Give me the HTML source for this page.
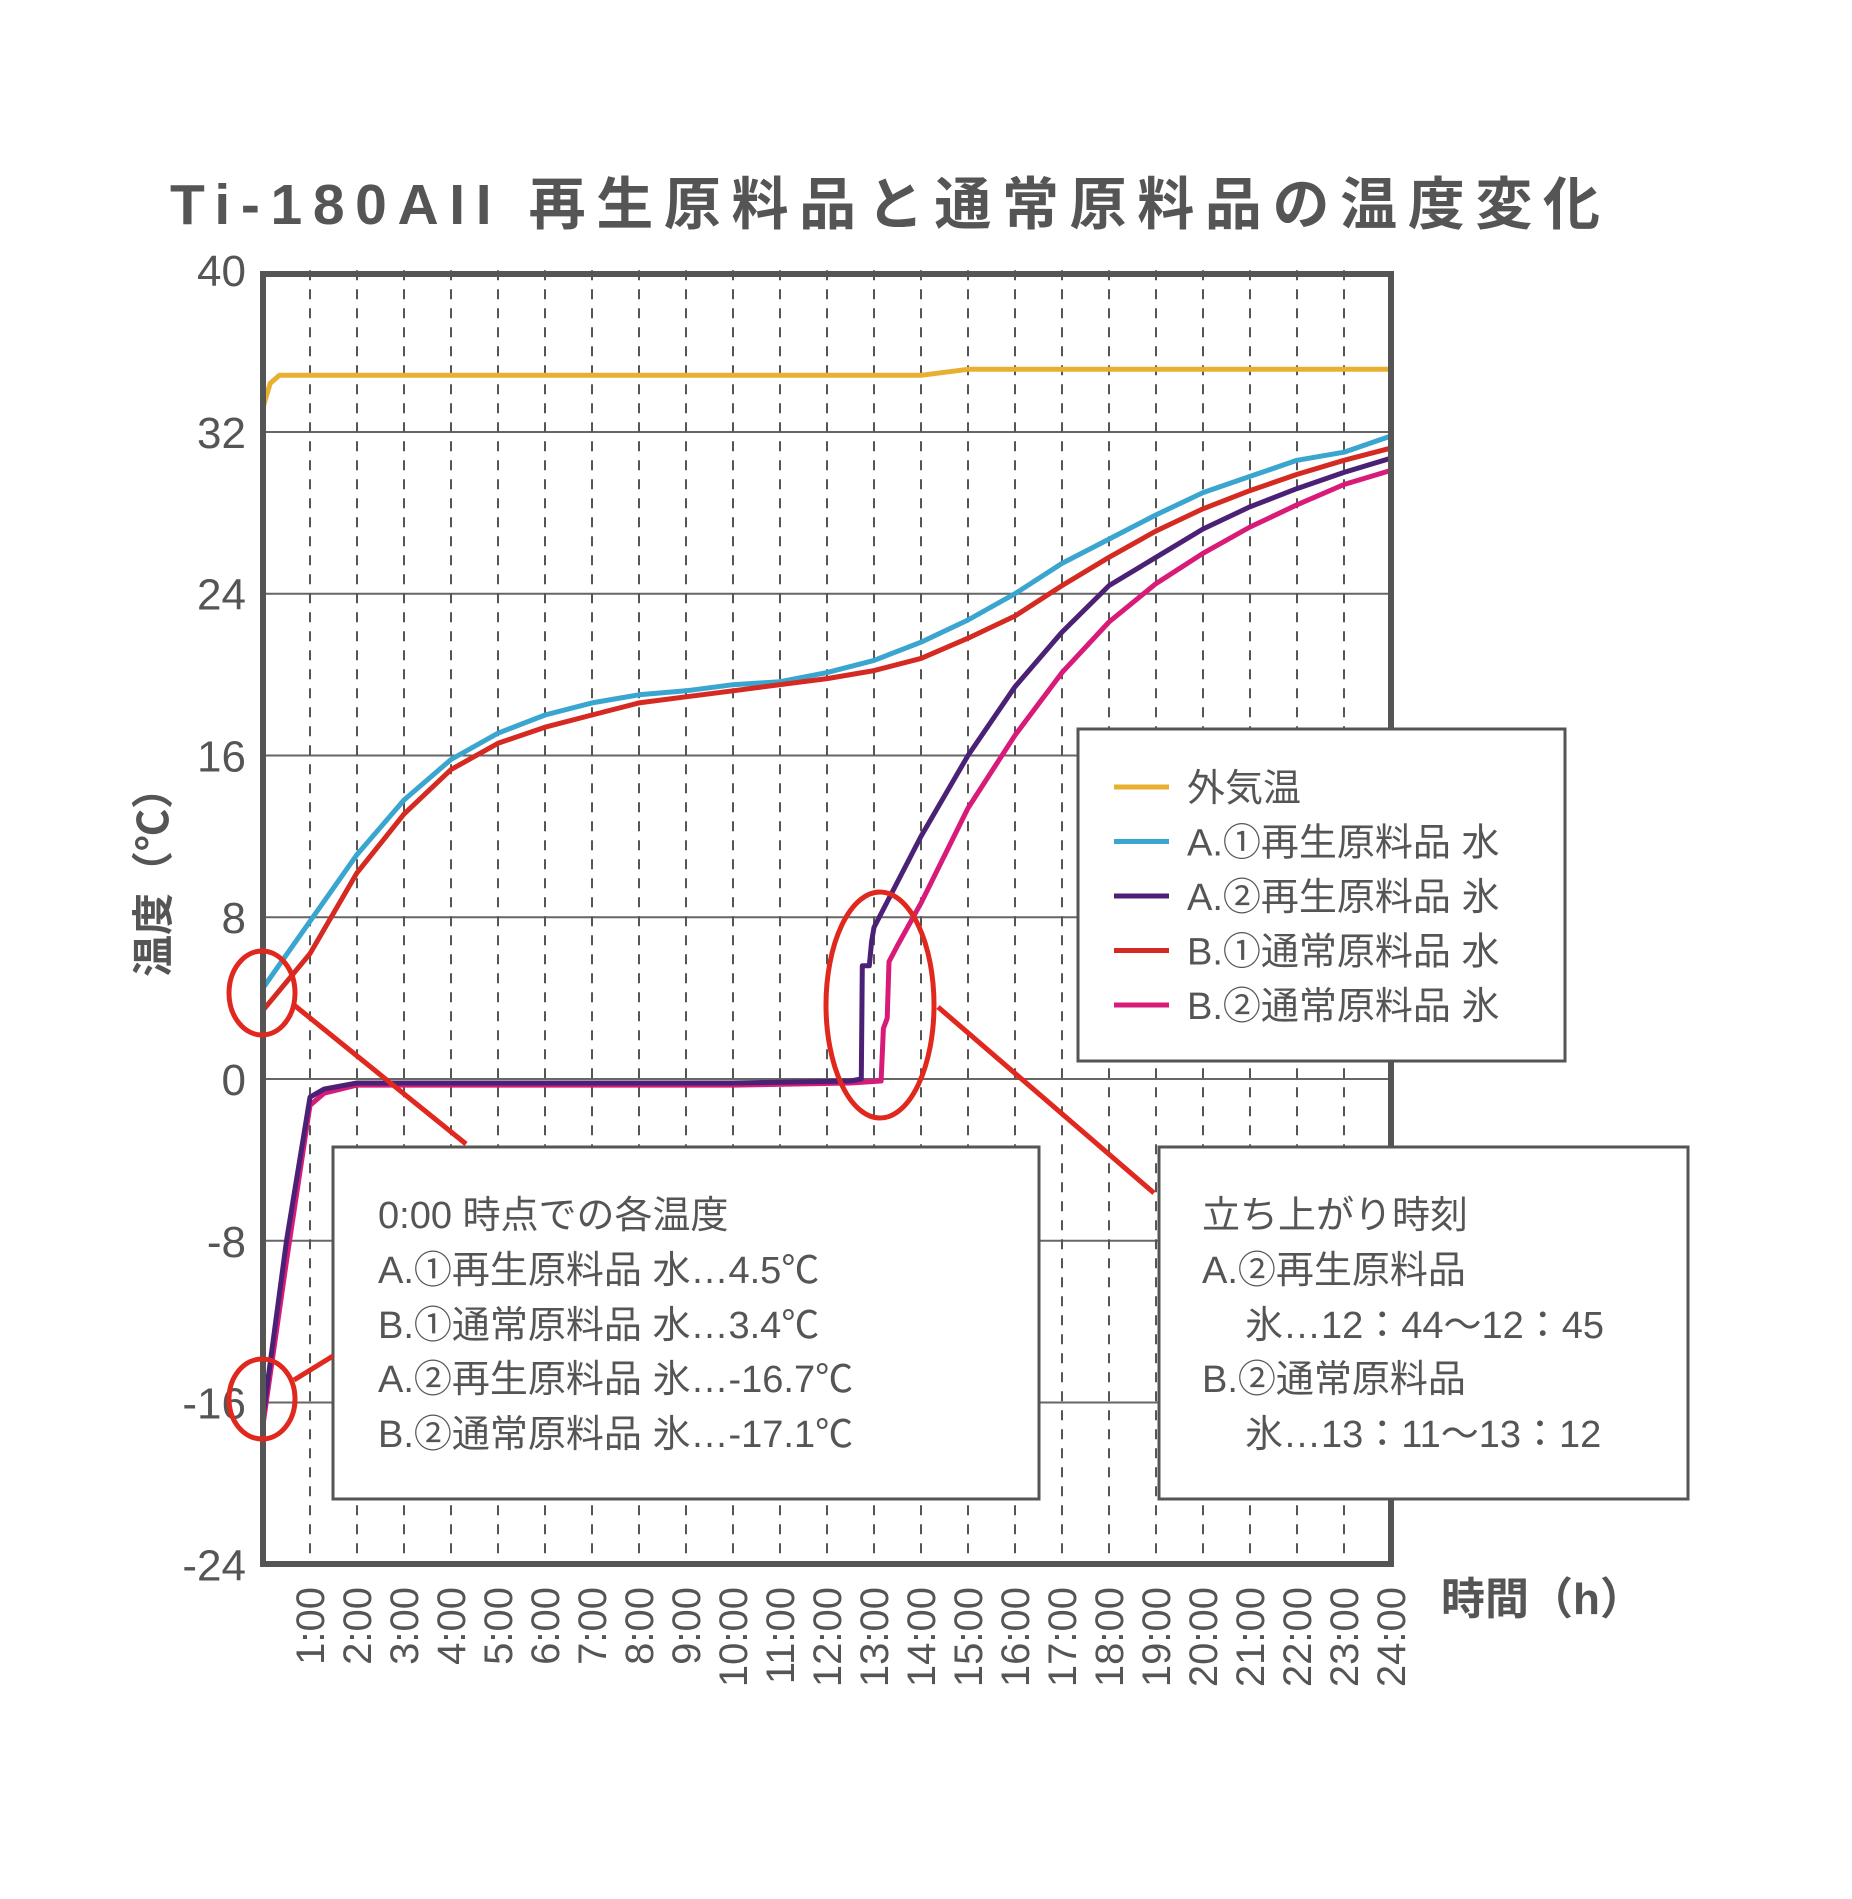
<!DOCTYPE html>
<html><head><meta charset="utf-8"><style>
html,body{margin:0;padding:0;background:#fff;}
svg{display:block;}
text{font-family:"Liberation Sans","Noto Sans CJK JP",sans-serif;fill:#555;}
</style></head><body>
<svg id="chart" width="1852" height="1899" viewBox="0 0 1852 1899">
<rect width="1852" height="1899" fill="#fff"/>
<text x="170" y="224" font-size="57" font-weight="bold" textLength="1430" lengthAdjust="spacing">Ti-180AII 再生原料品と通常原料品の温度変化</text>
<g id="grid"></g>
<g id="series"></g>
<rect x="263" y="274" width="1128" height="1290" fill="none" stroke="#555" stroke-width="6"/>
<g id="yticks"></g>
<g id="xticks"></g>
<text transform="translate(168,872) rotate(-90)" text-anchor="middle" font-size="42" font-weight="bold">温度（℃）</text>
<text x="1441" y="1614" font-size="44" font-weight="bold">時間（h）</text>

<g>
<rect x="1078" y="729" width="487" height="332" fill="#fff" stroke="#555" stroke-width="3"/>
<g id="legend"></g>
</g>

<g>
<rect x="333" y="1147" width="706" height="352" fill="#fff" stroke="#555" stroke-width="3"/>
<text font-size="38">
<tspan x="378" y="1228">0:00 時点での各温度</tspan>
<tspan x="378" y="1283">A.①再生原料品 水…4.5℃</tspan>
<tspan x="378" y="1338">B.①通常原料品 水…3.4℃</tspan>
<tspan x="378" y="1392">A.②再生原料品 氷…-16.7℃</tspan>
<tspan x="378" y="1447">B.②通常原料品 氷…-17.1℃</tspan>
</text>
</g>
<g>
<rect x="1159" y="1147" width="529" height="352" fill="#fff" stroke="#555" stroke-width="3"/>
<text font-size="38">
<tspan x="1202" y="1228">立ち上がり時刻</tspan>
<tspan x="1202" y="1283">A.②再生原料品</tspan>
<tspan x="1245" y="1338">氷…12：44〜12：45</tspan>
<tspan x="1202" y="1392">B.②通常原料品</tspan>
<tspan x="1245" y="1447">氷…13：11〜13：12</tspan>
</text>
</g>
<g fill="none" stroke="#e0281e" stroke-width="5">
<ellipse cx="262" cy="993" rx="33" ry="42"/>
<ellipse cx="262" cy="1399" rx="33" ry="40"/>
<ellipse cx="880" cy="1005" rx="54" ry="113"/>
<line x1="294" y1="1005" x2="466" y2="1144"/>
<line x1="294" y1="1380" x2="333" y2="1356"/>
<line x1="938" y1="1007" x2="1154" y2="1193"/>
</g>
</svg>
<script>
const yTicks = [40, 32, 24, 16, 8, 0, -8, -16, -24];
const xHours = [1,2,3,4,5,6,7,8,9,10,11,12,13,14,15,16,17,18,19,20,21,22,23,24];
const seriesNames = ["外気温","A.①再生原料品 水","A.②再生原料品 氷","B.①通常原料品 水","B.②通常原料品 氷"];
const outsideX = [0, 0.15, 0.35, 14, 15, 24];
const outsideY = [33.2, 34.4, 34.8, 34.8, 35.1, 35.1];
const a1X = [0,1,2,3,4,5,6,7,8,9,10,11,12,13,14,15,16,17,18,19,20,21,22,23,24];
const a1Y = [4.5,7.8,11.1,13.8,15.8,17.1,18.0,18.6,19.0,19.2,19.5,19.65,20.1,20.7,21.6,22.7,24.0,25.5,26.7,27.9,29.0,29.8,30.6,31.0,31.8];
const b1X = [0,1,2,3,4,5,6,7,8,9,10,11,12,13,14,15,16,17,18,19,20,21,22,23,24];
const b1Y = [3.4,6.2,10.2,13.1,15.3,16.6,17.4,18.0,18.6,18.9,19.2,19.5,19.8,20.2,20.8,21.8,22.9,24.4,25.8,27.1,28.2,29.1,29.9,30.6,31.2];
const a2X = [0,0.5,1.0,1.3,2,3,6,10,12.5,12.73,12.75,12.9,12.95,13,14,15,16,17,18,19,20,21,22,23,24];
const a2Y = [-16.7,-8.0,-0.9,-0.5,-0.2,-0.2,-0.2,-0.2,-0.1,0,5.6,5.6,6.8,7.5,12.0,16.0,19.4,22.1,24.4,25.8,27.2,28.3,29.2,30.0,30.7];
const b2X = [0,0.5,1.0,1.3,2,3,6,10,12.5,13.15,13.2,13.28,13.32,13.5,14,15,16,17,18,19,20,21,22,23,24];
const b2Y = [-17.1,-9.0,-1.3,-0.7,-0.3,-0.3,-0.3,-0.3,-0.2,-0.1,2.5,3.0,5.8,6.6,8.7,13.4,17.0,20.1,22.6,24.5,26.0,27.3,28.4,29.4,30.1];

const NS = "http://www.w3.org/2000/svg";
function xs(h){ return 263 + h * 47; }
function ys(v){ return 1079 - v * 20.22; }
function mk(tag, attrs, parent){ const e = document.createElementNS(NS, tag); for (const k in attrs) e.setAttribute(k, attrs[k]); parent.appendChild(e); return e; }

const grid = document.getElementById('grid');
yTicks.forEach(v => {
  if (v === 40 || v === -24) return;
  const l = mk('line', {x1: xs(0), x2: xs(24), y1: ys(v), y2: ys(v), stroke: '#666', 'stroke-width': 2}, grid);
  
  
});
xHours.forEach(h => {
  if (h === 24) return;
  const l = mk('line', {x1: xs(h), x2: xs(h), y1: ys(40), y2: ys(-24), stroke: '#555', 'stroke-width': 2, 'stroke-dasharray': '10 9'}, grid);
  
  
});

const yt = document.getElementById('yticks');
yTicks.forEach(v => {
  const t = mk('text', {x: 246, y: ys(v) + 16, 'text-anchor': 'end', 'font-size': 44}, yt);
  t.textContent = String(v);
  
  
});
const xt = document.getElementById('xticks');
xHours.forEach(h => {
  const t = mk('text', {transform: 'translate(' + (xs(h) + 14) + ',1587) rotate(-90)', 'text-anchor': 'end', 'font-size': 40}, xt);
  t.textContent = h + ':00';
  
  
});

const colors = ['#e8b030', '#3aa6d0', '#4b2176', '#d42a22', '#d81b78'];
const allX = [outsideX, a1X, a2X, b1X, b2X];
const allY = [outsideY, a1Y, a2Y, b1Y, b2Y];
const order = [0, 1, 3, 4, 2];
const sg = document.getElementById('series');
order.forEach(i => {
  const pts = allX[i].map((h, j) => xs(h).toFixed(1) + ',' + ys(allY[i][j]).toFixed(1)).join(' ');
  const p = mk('polyline', {points: pts, fill: 'none', stroke: colors[i], 'stroke-width': 5, 'stroke-linejoin': 'round', 'stroke-linecap': 'round'}, sg);
  
  
});

const lg = document.getElementById('legend');
seriesNames.forEach((n, i) => {
  const y = 787 + i * 54.5;
  const l = mk('line', {x1: 1114, x2: 1169, y1: y, y2: y, stroke: colors[i], 'stroke-width': 5}, lg);
  
  
  const t = mk('text', {x: 1187, y: y + 14, 'font-size': 38}, lg);
  t.textContent = n;
  
  
});
</script>
</body></html>
